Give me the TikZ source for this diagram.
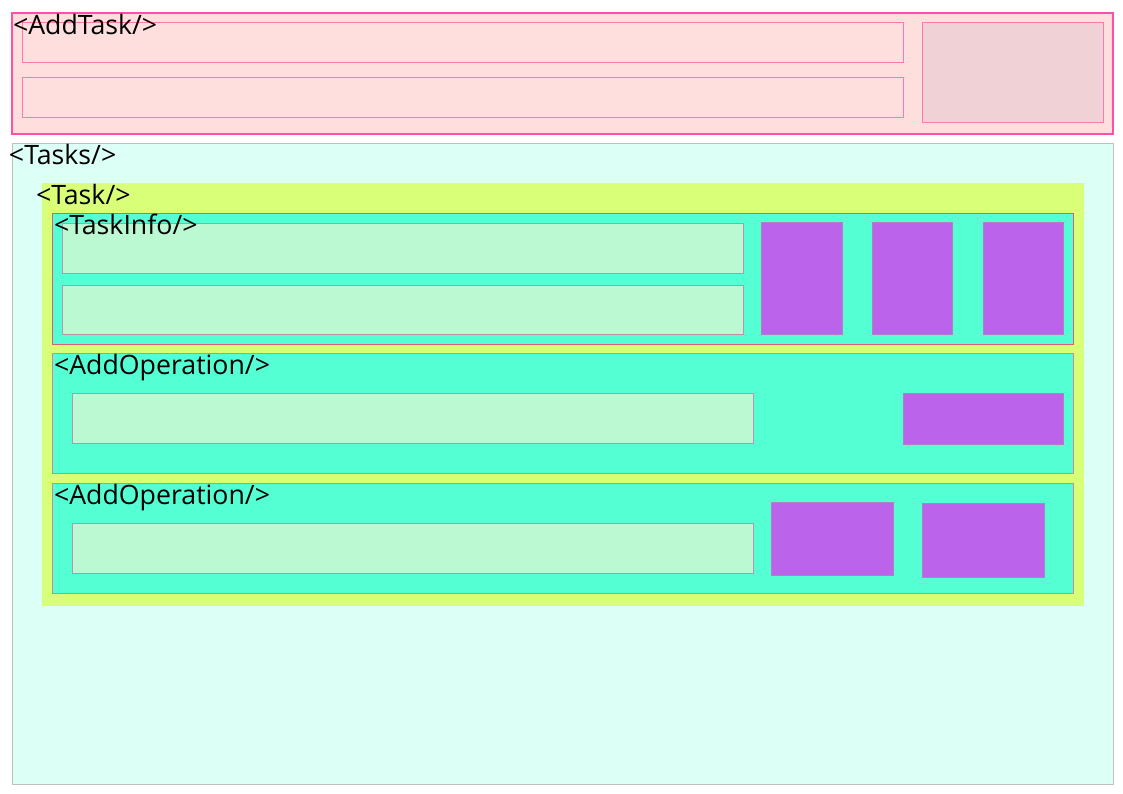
\documentclass[tikz,border=0pt]{standalone}
\usepackage{fontspec}
\setmainfont{Open Sans}
\definecolor{atfill}{HTML}{FFDEDE}
\definecolor{atborder}{HTML}{FF4FA8}
\definecolor{pinkline}{HTML}{FF78B0}
\definecolor{rbfill}{HTML}{F0D2D6}
\definecolor{tsfill}{HTML}{DCFFF6}
\definecolor{tsborder}{HTML}{C0C0C0}
\definecolor{tkfill}{HTML}{D9FF78}
\definecolor{aqua}{HTML}{55FFD4}
\definecolor{tiborder}{HTML}{E05A7A}
\definecolor{aoborder}{HTML}{D08898}
\definecolor{ingreen}{HTML}{BBF9D2}
\definecolor{inborder}{HTML}{C090B0}
\definecolor{purp}{HTML}{BB63EB}
\definecolor{purpborder}{HTML}{B080C0}
\tikzset{
  frame/.style={anchor=north west, inner sep=0pt, outer sep=0pt, line width=1pt},
  lbl/.style={anchor=base west, inner sep=0pt, outer sep=0pt, font=\fontsize{26.7}{30}\selectfont},
  pinkinput/.style={frame, fill=atfill, draw=pinkline},
  greeninput/.style={frame, fill=ingreen, draw=inborder},
  purpbox/.style={frame, fill=purp, draw=purpborder},
  aquabox/.style={frame, fill=aqua},
}
\begin{document}
\begin{tikzpicture}[x=1pt,y=-1pt]
\useasboundingbox[fill=white] (0,0) rectangle (1123,794);
% AddTask
\node[frame, fill=atfill, draw=atborder, line width=2pt, minimum width=1101pt, minimum height=121pt] (addtask) at (12,13) {};
\node[pinkinput, minimum width=881pt, minimum height=40pt] (atin1) at (22,23) {};
\node[pinkinput, minimum width=881pt, minimum height=40pt] (atin2) at (22,78) {};
\node[frame, fill=rbfill, draw=pinkline, minimum width=181pt, minimum height=100pt] (atbtn) at (922,23) {};
\node[lbl] (atlbl) at (13,34.5) {<AddTask/>};
% Tasks
\node[frame, fill=tsfill, draw=tsborder, minimum width=1101pt, minimum height=641pt] (tasks) at (12,143.5) {};
\node[lbl] (tslbl) at (9,164.5) {<Tasks/>};
% Task
\node[frame, fill=tkfill, minimum width=1042pt, minimum height=422pt] (task) at (42,183.5) {};
\node[lbl] (tklbl) at (36,204.5) {<Task/>};
% TaskInfo
\node[aquabox, draw=tiborder, minimum width=1021pt, minimum height=130.5pt] (taskinfo) at (52,213.5) {};
\node[greeninput, minimum width=681pt, minimum height=50pt] (tiin1) at (62,223.5) {};
\node[greeninput, minimum width=681pt, minimum height=49pt] (tiin2) at (62,285) {};
\node[purpbox, minimum width=81pt, minimum height=111pt] (tib1) at (761,223) {};
\node[purpbox, minimum width=80.5pt, minimum height=111pt] (tib2) at (872,223) {};
\node[purpbox, minimum width=80.5pt, minimum height=111pt] (tib3) at (983,223) {};
\node[lbl] (tilbl) at (54,234.5) {<TaskInfo/>};
% AddOperation 1
\node[aquabox, draw=aoborder, minimum width=1021pt, minimum height=119.5pt] (addop1) at (52,353.5) {};
\node[greeninput, minimum width=681pt, minimum height=50pt] (ao1in) at (72,393.5) {};
\node[purpbox, minimum width=160pt, minimum height=50.5pt] (ao1btn) at (903,393.5) {};
\node[lbl] (ao1lbl) at (54,374.5) {<AddOperation/>};
% AddOperation 2
\node[aquabox, draw=aoborder, minimum width=1021pt, minimum height=110pt] (addop2) at (52,483.5) {};
\node[greeninput, minimum width=681pt, minimum height=50pt] (ao2in) at (72,523.5) {};
\node[purpbox, minimum width=122.5pt, minimum height=73pt] (ao2b1) at (771,502) {};
\node[purpbox, minimum width=122pt, minimum height=73.5pt] (ao2b2) at (922,503.5) {};
\node[lbl] (ao2lbl) at (54,504.5) {<AddOperation/>};
\end{tikzpicture}
\end{document}
